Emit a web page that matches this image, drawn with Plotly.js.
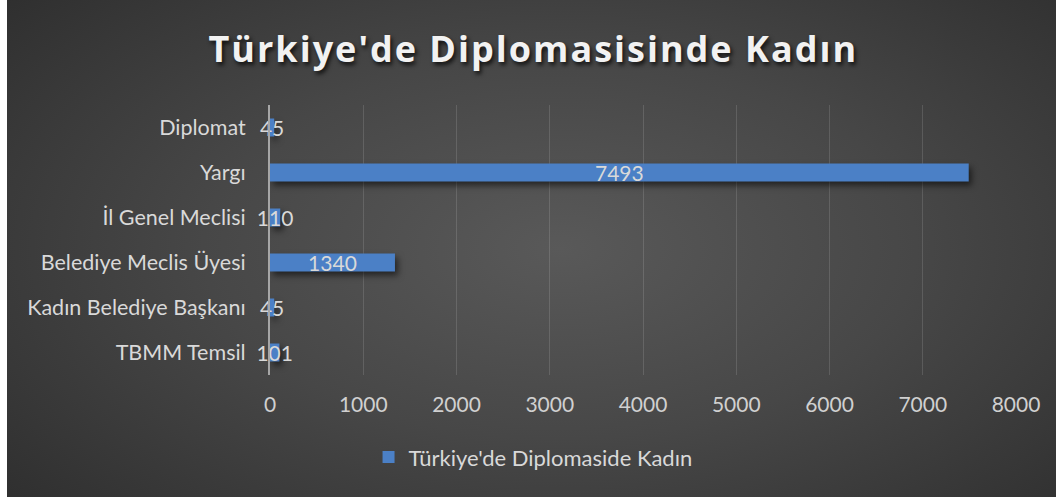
<!DOCTYPE html>
<html>
<head>
<meta charset="utf-8">
<script src="https://cdn.plot.ly/plotly-3.0.1.min.js"></script>
<style>
html,body{margin:0;padding:0;background:#fff;}
#chart{width:1056px;height:497px;
background: linear-gradient(to right, #ffffff 0px, #ffffff 7px, transparent 7px),
            radial-gradient(ellipse 75% 85% at 53% 50%, #595959 0%, #474747 45%, #2b2b2b 100%);}
#chart .gtitle{letter-spacing:2px;}
#chart .barlayer .point path{filter: drop-shadow(3px 4px 3px rgba(0,0,0,0.55));}
</style>
</head>
<body>
<div id="chart"></div>
<script>
const categories = ["TBMM Temsil", "Kadın Belediye Başkanı", "Belediye Meclis Üyesi", "İl Genel Meclisi", "Yargı", "Diplomat"];
const values = [101, 45, 1340, 110, 7493, 45];
const seriesName = "Türkiye'de Diplomaside Kadın";
const chartTitle = "Türkiye'de Diplomasisinde Kadın";
const xTicks = [0, 1000, 2000, 3000, 4000, 5000, 6000, 7000, 8000];

const FONT = 'Lato, Carlito, sans-serif';

const trace = {
  type: 'bar',
  orientation: 'h',
  y: categories,
  x: values,
  name: seriesName,
  text: values.map(String),
  textposition: 'inside',
  insidetextanchor: 'middle',
  textangle: 0,
  constraintext: 'none',
  cliponaxis: false,
  textfont: {family: FONT, size: 21, color: '#d9d9d9'},
  marker: {color: '#4b80c6', line: {width: 0}},
  showlegend: true
};

const layout = {
  width: 1056, height: 497,
  paper_bgcolor: 'rgba(0,0,0,0)',
  plot_bgcolor: 'rgba(0,0,0,0)',
  margin: {l: 270, r: 40, t: 105, b: 122},
  bargap: 0.6,
  title: {
    text: chartTitle,
    font: {family: 'Open Sans, sans-serif', size: 36, color: '#f2f2f2', weight: 700,
           shadow: '2px 3px 4px rgba(0,0,0,0.75)'},
    x: 0.505, xref: 'container', xanchor: 'center',
    y: 0.9, yref: 'container', yanchor: 'middle'
  },
  xaxis: {
    range: [0, 8000],
    tickvals: xTicks,
    ticktext: xTicks.map(String),
    showgrid: true,
    gridcolor: 'rgba(255,255,255,0.13)',
    gridwidth: 1,
    zeroline: false,
    showline: false,
    ticks: 'outside', ticklen: 11, tickcolor: 'rgba(0,0,0,0)',
    tickfont: {family: FONT, size: 21, color: '#d0d0d0'},
    fixedrange: true
  },
  yaxis: {
    type: 'category',
    categoryorder: 'array',
    categoryarray: categories,
    showgrid: false,
    zeroline: false,
    showline: true,
    linecolor: '#a6a6a6',
    linewidth: 2,
    ticks: 'outside', ticklen: 18, tickcolor: 'rgba(0,0,0,0)',
    tickfont: {family: FONT, size: 21.5, color: '#d9d9d9'},
    fixedrange: true
  },
  showlegend: true,
  legend: {
    orientation: 'h',
    xref: 'container', yref: 'container',
    x: 0.349, xanchor: 'left',
    y: 0.08, yanchor: 'middle',
    font: {family: FONT, size: 22, color: '#d9d9d9'},
    bgcolor: 'rgba(0,0,0,0)'
  }
};

Plotly.newPlot('chart', [trace], layout, {displayModeBar: false, staticPlot: true});
</script>
</body>
</html>
